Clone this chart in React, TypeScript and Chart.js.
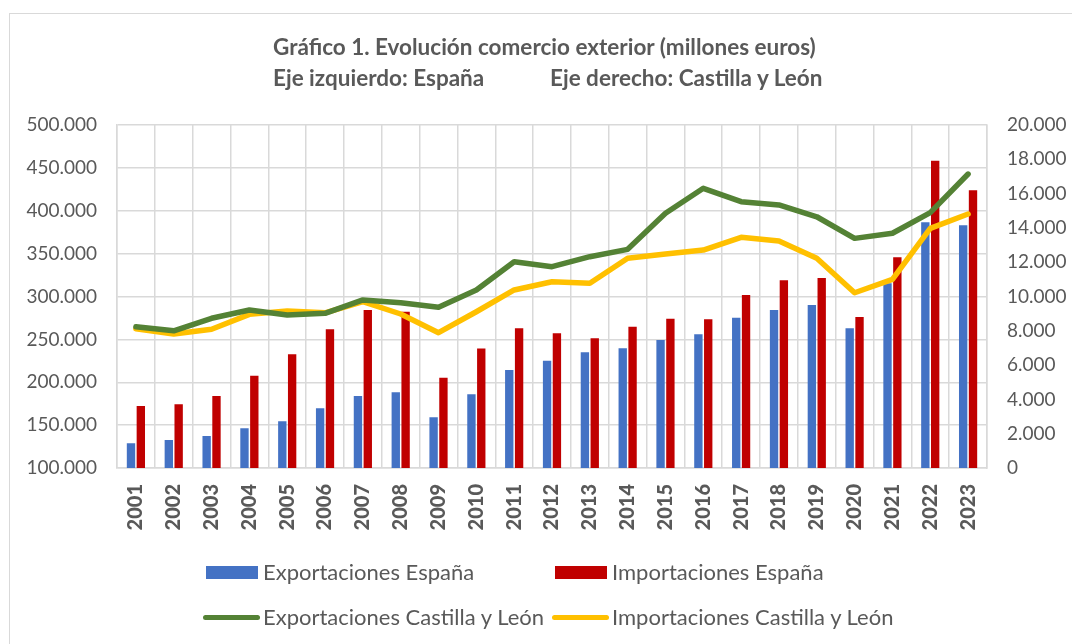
import React, { useEffect, useRef } from "react";
import { Chart, registerables } from "chart.js";

Chart.register(...registerables);

const years = ["2001", "2002", "2003", "2004", "2005", "2006", "2007", "2008", "2009", "2010", "2011", "2012", "2013", "2014", "2015", "2016", "2017", "2018", "2019", "2020", "2021", "2022", "2023"];

const exportsSpain = [128800, 132700, 137300, 146300, 154400, 169600, 184000, 188200, 159100, 185900, 214300, 225100, 234900, 239600, 249300, 255900, 275300, 284200, 290000, 262900, 315400, 386500, 383000];
const importsSpain = [172300, 174300, 184000, 207600, 232600, 261700, 284200, 282300, 205300, 239500, 262900, 257000, 251200, 264800, 274100, 273400, 301700, 318900, 321600, 276100, 345700, 458300, 423800];
const exportsCyL = [8240, 8000, 8730, 9210, 8920, 9020, 9800, 9640, 9370, 10380, 12030, 11740, 12320, 12750, 14850, 16310, 15530, 15340, 14650, 13390, 13690, 14890, 17140];
const importsCyL = [8120, 7810, 8090, 8960, 9150, 9050, 9700, 8980, 7890, 9110, 10380, 10860, 10770, 12230, 12480, 12710, 13450, 13240, 12230, 10220, 11000, 13970, 14810];

const leftTicks = [100000, 150000, 200000, 250000, 300000, 350000, 400000, 450000, 500000];
const rightTicks = [0, 2000, 4000, 6000, 8000, 10000, 12000, 14000, 16000, 18000, 20000];

const titleLine1 = "Gráfico 1. Evolución comercio exterior (millones euros)";
const titleLeft = "Eje izquierdo: España";
const titleRight = "Eje derecho: Castilla y León";

const names = ["Exportaciones España", "Importaciones España", "Exportaciones Castilla y León", "Importaciones Castilla y León"];

const BLUE = "#4472C4";
const RED = "#C00000";
const GREEN = "#548235";
const YELLOW = "#FFC000";
const TEXT = "#595959";
const GRID = "#D9D9D9";

const fmt = (v: number) => String(Math.round(v)).replace(/\B(?=(\d{3})+(?!\d))/g, ".");

export default function App() {
  const ref = useRef<HTMLCanvasElement | null>(null);

  useEffect(() => {
    if (!ref.current) return;
    const chart = new Chart(ref.current, {
      type: "bar",
      data: {
        labels: years,
        datasets: [
          { type: "line", label: names[2], data: exportsCyL, yAxisID: "y1", borderColor: GREEN, backgroundColor: GREEN, borderWidth: 5.5, pointRadius: 0, borderJoinStyle: "round", borderCapStyle: "round", tension: 0, order: 0 } as any,
          { type: "line", label: names[3], data: importsCyL, yAxisID: "y1", borderColor: YELLOW, backgroundColor: YELLOW, borderWidth: 5.5, pointRadius: 0, borderJoinStyle: "round", borderCapStyle: "round", tension: 0, order: 0 } as any,
          { type: "bar", label: names[0], data: exportsSpain, yAxisID: "y", backgroundColor: BLUE, categoryPercentage: 0.52, barPercentage: 0.85, order: 1 } as any,
          { type: "bar", label: names[1], data: importsSpain, yAxisID: "y", backgroundColor: RED, categoryPercentage: 0.52, barPercentage: 0.85, order: 1 } as any,
        ],
      },
      options: {
        responsive: false,
        animation: false,
        layout: { padding: { top: 125, left: 0, right: 0, bottom: 100 } },
        plugins: { legend: { display: false }, title: { display: false }, tooltip: { enabled: false } },
        scales: {
          x: {
            offset: true,
            grid: { display: true, color: GRID, lineWidth: 1.5, offset: true, drawTicks: false },
            border: { display: true, color: GRID, width: 1.5 },
            ticks: { color: TEXT, font: { family: "Lato", size: 20, weight: 900 }, minRotation: 90, maxRotation: 90, autoSkip: false, padding: 16 },
            afterFit: (s: any) => { s.height = 76; },
          },
          y: {
            position: "left",
            min: 100000,
            max: 500000,
            grid: { color: GRID, lineWidth: 1.5, drawTicks: false },
            border: { display: true, color: GRID, width: 1.5 },
            ticks: { color: TEXT, font: { family: "Lato", size: 19 }, padding: 20, callback: (v: any) => fmt(Number(v)) },
            afterBuildTicks: (s: any) => { s.ticks = leftTicks.map((v) => ({ value: v })); },
            afterFit: (s: any) => { s.width = 117; },
          },
          y1: {
            position: "right",
            min: 0,
            max: 20000,
            grid: { display: false, drawTicks: false },
            border: { display: true, color: GRID, width: 1.5 },
            ticks: { color: TEXT, font: { family: "Lato", size: 19 }, padding: 20, callback: (v: any) => fmt(Number(v)) },
            afterBuildTicks: (s: any) => { s.ticks = rightTicks.map((v) => ({ value: v })); },
            afterFit: (s: any) => { s.width = 85; },
          },
        },
      } as any,
    });
    return () => chart.destroy();
  }, []);

  const legendText: React.CSSProperties = { position: "absolute", fontFamily: "Lato", fontSize: 22, color: TEXT, lineHeight: "26px", whiteSpace: "nowrap" };
  const titleStyle: React.CSSProperties = { position: "absolute", fontFamily: "Lato", fontWeight: "bold", fontSize: 22.5, color: TEXT, lineHeight: "28px", whiteSpace: "nowrap" };

  return (
    <div style={{ position: "fixed", left: 0, top: 0, width: 1072, height: 644, overflow: "hidden", background: "#fff" }}>
      <div style={{ position: "absolute", left: 9, top: 13, width: 1080, height: 700, border: "1.5px solid #D9D9D9", boxSizing: "border-box" }} />
      <canvas ref={ref} width={1072} height={644} style={{ position: "absolute", left: 0, top: 0, width: 1072, height: 644 }} />
      <div style={{ ...titleStyle, left: 273, top: 33 }}>{titleLine1}</div>
      <div style={{ ...titleStyle, left: 273, top: 64 }}>{titleLeft}</div>
      <div style={{ ...titleStyle, left: 550, top: 64 }}>{titleRight}</div>

      <div style={{ position: "absolute", left: 206, top: 566, width: 52, height: 13, background: BLUE }} />
      <div style={{ ...legendText, left: 263, top: 559 }}>{names[0]}</div>
      <div style={{ position: "absolute", left: 555, top: 566, width: 52, height: 13, background: RED }} />
      <div style={{ ...legendText, left: 612, top: 559 }}>{names[1]}</div>

      <div style={{ position: "absolute", left: 203, top: 615, width: 57, height: 5, borderRadius: 3, background: GREEN }} />
      <div style={{ ...legendText, left: 263, top: 604 }}>{names[2]}</div>
      <div style={{ position: "absolute", left: 552, top: 615, width: 57, height: 5, borderRadius: 3, background: YELLOW }} />
      <div style={{ ...legendText, left: 612, top: 604 }}>{names[3]}</div>
    </div>
  );
}
